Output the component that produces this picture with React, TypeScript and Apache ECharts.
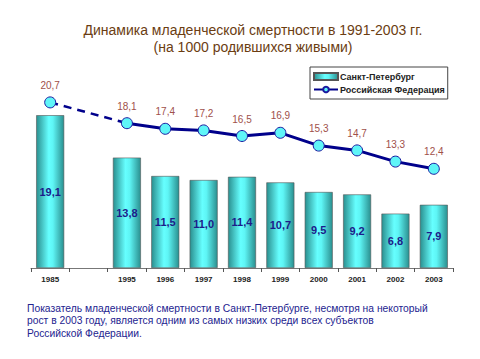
import React, { useEffect, useRef } from "react";
import * as echarts from "echarts";

const categories = ["1985", "", "1995", "1996", "1997", "1998", "1999", "2000", "2001", "2002", "2003"];
const spbValues: (number | string)[] = [19.1, "-", 13.8, 11.5, 11.0, 11.4, 10.7, 9.5, 9.2, 6.8, 7.9];
const rfValues: (number | string)[] = [20.7, "-", 18.1, 17.4, 17.2, 16.5, 16.9, 15.3, 14.7, 13.3, 12.4];
const rfDashed: (number | string)[] = [20.7, "-", 18.1, "-", "-", "-", "-", "-", "-", "-", "-"];

const titleLines = ["Динамика младенческой смертности в 1991-2003 гг.", "(на 1000 родившихся живыми)"];
const footnote = [
  "Показатель младенческой смертности в Санкт-Петербурге, несмотря на некоторый",
  "рост в 2003 году, является одним из самых низких среди всех субъектов",
  "Российской Федерации.",
];

const fmt = (v: number) => v.toFixed(1).replace(".", ",");

export default function App() {
  const ref = useRef<HTMLDivElement>(null);
  useEffect(() => {
    const chart = echarts.init(ref.current!, null, { renderer: "svg" });
    const barColor = new echarts.graphic.LinearGradient(0, 0, 1, 0, [
      { offset: 0, color: "#2a8f8f" },
      { offset: 0.45, color: "#66ffff" },
      { offset: 0.6, color: "#5ef5f5" },
      { offset: 1, color: "#2a8f8f" },
    ]);
    chart.setOption({
      animation: false,
      title: {
        text: titleLines.join("\n"),
        left: 240,
        textAlign: "center",
        top: 8,
        textStyle: {
          fontFamily: "Liberation Sans",
          fontSize: 14,
          fontWeight: "normal",
          color: "#6b3d12",
          lineHeight: 17,
        },
      },
      legend: {
        left: 302,
        top: 59,
        orient: "vertical",
        itemGap: 4,
        itemWidth: 24,
        itemHeight: 7,
        padding: [5, 3, 5, 3],
        borderColor: "#444",
        borderWidth: 1,
        data: [
          { name: "Санкт-Петербург", icon: "rect" },
          { name: "Российская Федерация" },
        ],
        textStyle: {
          fontFamily: "Liberation Sans",
          fontSize: 9,
          fontWeight: "bold",
          color: "#222",
          padding: [0, 0, 0, -3],
        },
      },
      grid: { left: 23, right: 35, top: 60, height: 200 },
      xAxis: {
        type: "category",
        data: categories,
        axisLine: { lineStyle: { color: "#777", width: 1 } },
        axisTick: { show: true, length: 4, lineStyle: { color: "#555" } },
        axisLabel: {
          fontFamily: "Liberation Sans",
          fontSize: 8,
          fontWeight: "bold",
          color: "#222",
          margin: 7,
        },
      },
      yAxis: { type: "value", min: 0, max: 25, show: false, splitLine: { show: false } },
      series: [
        {
          name: "Санкт-Петербург",
          type: "bar",
          data: spbValues,
          barWidth: 28,
          itemStyle: { color: barColor, borderColor: "#555", borderWidth: 0.6 },
          label: {
            show: true,
            position: "inside",
            formatter: (p: any) => fmt(p.value),
            fontFamily: "Liberation Sans",
            fontSize: 11,
            fontWeight: "bold",
            color: "#1c1c8a",
          },
          z: 1,
        },
        {
          name: "Российская Федерация-dash",
          type: "line",
          data: rfDashed,
          connectNulls: true,
          showSymbol: false,
          symbol: "none",
          lineStyle: { color: "#00008b", width: 2.5, type: [8, 6] },
          z: 2,
          silent: true,
        },
        {
          name: "Российская Федерация",
          type: "line",
          data: rfValues,
          connectNulls: false,
          symbol: "circle",
          symbolSize: 11,
          showSymbol: true,
          showAllSymbol: true,
          lineStyle: { color: "#00008b", width: 3 },
          itemStyle: { color: "#5ff5f8", borderColor: "#1a1aa0", borderWidth: 1 },
          label: {
            show: true,
            position: "top",
            distance: 6,
            formatter: (p: any) => fmt(p.value),
            fontFamily: "Liberation Sans",
            fontSize: 10,
            color: "#a0504a",
          },
          z: 3,
        },
      ],
      graphic: [
        {
          type: "text",
          left: 19,
          top: 294,
          style: {
            text: footnote.join("\n"),
            fontFamily: "Liberation Sans",
            fontSize: 10.3,
            lineHeight: 12.5,
            fill: "#23238f",
          },
        },
      ],
    });
    return () => chart.dispose();
  }, []);
  return <div ref={ref} style={{ width: 480, height: 359 }} />;
}
